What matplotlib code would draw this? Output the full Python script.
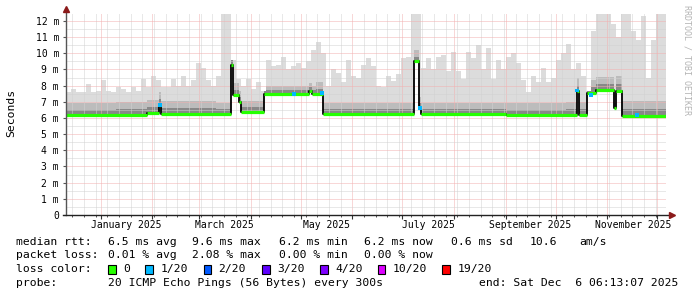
import matplotlib
matplotlib.use("Agg")
import matplotlib.pyplot as plt
import matplotlib.dates as mdates
import matplotlib.transforms as mtransforms
from matplotlib.patches import Rectangle
from matplotlib.ticker import MultipleLocator, NullFormatter, FuncFormatter
import numpy as np
import pandas as pd

plt.rcParams["font.family"] = ["DejaVu Sans Mono", "DejaVu Sans"]

START = pd.Timestamp("2024-12-11 06:13:07")
END = pd.Timestamp("2025-12-06 06:13:07")

# slowest ping of each sample (top of the light smoke), ms, one value per 3 days
smoke_max = [
    7.6, 7.8, 7.6, 7.6, 8.1, 7.6, 7.7, 8.35, 7.7, 7.6,
    7.9, 7.8, 7.6, 7.9, 7.7, 8.4, 7.9, 8.6, 8.35, 7.9,
    7.9, 8.4, 8.0, 8.6, 8.0, 8.35, 9.4, 9.1, 8.35, 8.0,
    8.6, 12.45, 12.45, 9.6, 8.4, 8.0, 8.4, 7.8, 8.2, 7.7,
    9.6, 9.2, 9.3, 9.8, 9.0, 9.2, 9.4, 9.1, 9.5, 10.2,
    10.7, 10.0, 8.0, 9.0, 8.8, 8.2, 9.6, 8.6, 8.5, 9.3,
    9.7, 9.2, 8.0, 7.9, 8.6, 8.3, 8.7, 9.7, 9.8, 12.45,
    12.45, 9.1, 9.7, 9.0, 9.8, 9.9, 8.9, 10.1, 8.9, 8.4,
    10.1, 9.7, 10.5, 9.0, 10.3, 8.4, 9.6, 9.0, 9.8, 10.0,
    9.4, 8.35, 7.6, 8.6, 8.2, 9.1, 8.2, 8.5, 9.6, 10.0,
    10.6, 9.0, 9.4, 8.6, 7.7, 11.4, 12.45, 12.45, 12.45, 11.8,
    11.0, 12.45, 12.45, 11.4, 10.8, 12.3, 8.5, 10.8, 12.45, 12.45,
]

# median rtt, ms, held until the next date
median_dates = [
    "2024-12-11 06:13", "2025-01-29", "2025-02-05", "2025-02-06 12:00",
    "2025-03-20", "2025-03-21 12:00", "2025-03-25", "2025-03-26",
    "2025-04-09", "2025-05-06", "2025-05-08", "2025-05-14 18:00",
    "2025-07-08", "2025-07-11", "2025-07-12", "2025-09-01",
    "2025-10-14", "2025-10-15", "2025-10-20", "2025-10-25",
    "2025-11-05", "2025-11-06", "2025-11-10",
]
median_ms = [
    6.2, 6.3, 6.8, 6.25,
    9.3, 7.45, 7.0, 6.35,
    7.5, 7.65, 7.5, 6.25,
    9.5, 6.6, 6.25, 6.2,
    7.65, 6.2, 7.55, 7.75,
    6.6, 7.7, 6.15,
]

# reach of the darker smoke bands above the median, ms, one value per 30 days
smoke_mid_ms = [0.7, 0.8, 0.8, 0.7, 0.5, 0.7, 0.7, 0.7, 0.7, 0.7, 0.8, 0.9]
smoke_dark_ms = [0.3, 0.35, 0.35, 0.3, 0.25, 0.3, 0.3, 0.3, 0.3, 0.3, 0.35, 0.4]

# samples where 1 of 20 pings was lost
loss_dates = ["2025-02-05 12:00", "2025-04-27", "2025-05-14", "2025-07-11 12:00",
              "2025-10-14", "2025-10-22", "2025-11-19"]
loss_ms = [6.8, 7.48, 7.57, 6.6, 7.7, 7.42, 6.18]
loss_level = [1, 1, 1, 1, 1, 1, 1]

loss_labels = ["0", "1/20", "2/20", "3/20", "4/20", "10/20", "19/20"]
loss_colors = ["#26ff00", "#00b8ff", "#0059ff", "#5e00ff", "#7e00ff", "#dd00ff", "#ff0000"]

month_label_dates = ["2025-01-16 12:00", "2025-03-16 12:00", "2025-05-16 12:00",
                     "2025-07-16 12:00", "2025-09-16", "2025-11-16 12:00"]

W, H = 697, 297


def to_dt(strings):
    return pd.to_datetime(strings, format="mixed")


def step_at(edges, values, t):
    idx = np.searchsorted(edges.values, t.values, side="right") - 1
    idx = np.clip(idx, 0, len(values) - 1)
    return np.asarray(values, dtype=float)[idx]


env_edges = pd.date_range(START, periods=len(smoke_max) + 1, freq="3D")
chunk_edges = pd.date_range(START, periods=len(smoke_mid_ms) + 1, freq="30D")
med_edges = pd.DatetimeIndex(list(to_dt(median_dates)) + [END])

grid_t = env_edges.union(chunk_edges).union(med_edges)
grid_t = grid_t[(grid_t >= START) & (grid_t <= END)]

med = step_at(med_edges, median_ms, grid_t)
top = np.maximum(step_at(env_edges, smoke_max, grid_t), med)
mid = np.minimum(med + step_at(chunk_edges, smoke_mid_ms, grid_t), top)
dark = np.minimum(med + step_at(chunk_edges, smoke_dark_ms, grid_t), top)
gx = mdates.date2num(grid_t)

fig = plt.figure(figsize=(W / 100, H / 100), dpi=100)
fig.patch.set_facecolor("white")
ax_h = (215 - 13.7) / H
ax = fig.add_axes([66 / W, 82 / H, 600 / W, ax_h])
ax.set_xlim(mdates.date2num(START), mdates.date2num(END))
ax.set_ylim(0, 12.45)

# smoke
ax.fill_between(gx, med, top, step="post", color="#dcdcdc", lw=0, zorder=1)
ax.fill_between(gx, med, mid, step="post", color="#bcbcbc", lw=0, zorder=1.1)
ax.fill_between(gx, med, dark, step="post", color="#888888", lw=0, zorder=1.2)

# median line, coloured by loss
mx = mdates.date2num(med_edges)
ax.step(mx, list(median_ms) + [median_ms[-1]], where="post", color="black", lw=1.3, zorder=3)
ax.hlines(median_ms, mx[:-1], mx[1:], color=loss_colors[0], lw=2.3, zorder=4)
ax.scatter(mdates.date2num(to_dt(loss_dates)), loss_ms, marker="s", s=8,
           c=[loss_colors[l] for l in loss_level], linewidths=0, zorder=5)

# grid
ax.xaxis.set_major_locator(mdates.MonthLocator())
ax.xaxis.set_minor_locator(mdates.WeekdayLocator(byweekday=mdates.SU))
ax.xaxis.set_major_formatter(NullFormatter())
ax.yaxis.set_major_locator(MultipleLocator(1))
ax.yaxis.set_minor_locator(MultipleLocator(0.5))
ax.yaxis.set_major_formatter(FuncFormatter(lambda v, _: "0" if v == 0 else f"{v:g} m"))
ax.set_axisbelow(False)
ax.grid(which="major", color="#f3b0b0", lw=0.72, ls=(0, (1, 1)), zorder=2)
ax.grid(which="minor", color="#d2d2d2", lw=0.72, ls=(0, (1, 1)), zorder=2)
ax.tick_params(axis="y", which="major", labelsize=7, length=2, pad=3, color="#555555")
ax.tick_params(axis="y", which="minor", length=0)
ax.tick_params(axis="x", which="major", length=3, color="#333333")
ax.tick_params(axis="x", which="minor", length=1.5, color="#333333")
for s in ax.spines.values():
    s.set_visible(False)

# axes with arrows
ax.plot([0, 0], [0, 1 + 5 / (ax_h * H)], transform=ax.transAxes, clip_on=False,
        color="#555555", lw=1, zorder=6)
ax.plot([-3 / 600, 1 + 6 / 600], [0, 0], transform=ax.transAxes, clip_on=False,
        color="#222222", lw=1, zorder=6)
ax.plot(0, 1 + 5 / (ax_h * H), marker="^", ms=4, color="#8b1a1a", transform=ax.transAxes,
        clip_on=False, zorder=7)
ax.plot(1 + 6 / 600, 0, marker=">", ms=4, color="#8b1a1a", transform=ax.transAxes,
        clip_on=False, zorder=7)

# month labels centred on the month
lab_tr = mtransforms.blended_transform_factory(ax.transData, fig.transFigure)
for d in to_dt(month_label_dates):
    ax.text(mdates.date2num(d), 1 - 225 / H, d.strftime("%B %Y"), transform=lab_tr,
            ha="center", va="center", fontsize=7)

fig.text(11 / W, 1 - 113 / H, "Seconds", rotation=90, ha="center", va="center", fontsize=8.2)
fig.text(687 / W, 1 - 5 / H, "RRDTOOL / TOBI OETIKER", rotation=270, ha="center", va="top",
         fontsize=6, color="#b4b4b4")


def ftext(x, y, s):
    fig.text(x / W, 1 - y / H, s, ha="left", va="center", fontsize=8.2)


ftext(16.4, 241.7, "median rtt:")
for x, s in zip([108, 192.4, 279, 364.4, 451, 530, 579],
                ["6.5 ms avg", "9.6 ms max", "6.2 ms min", "6.2 ms now", "0.6 ms sd", "10.6", "am/s"]):
    ftext(x, 241.7, s)
ftext(16.4, 255, "packet loss:")
for x, s in zip([108, 192.4, 279, 364.4],
                ["0.01 % avg", "2.08 % max", "0.00 % min", "0.00 % now"]):
    ftext(x, 255, s)
ftext(16.4, 269.3, "loss color:")
box_x = [108, 145.3, 203.6, 262.2, 320, 377.8, 442.2]
for bx, lab, col in zip(box_x, loss_labels, loss_colors):
    fig.add_artist(Rectangle((bx / W, 1 - 274 / H), 7.5 / W, 8.7 / H, transform=fig.transFigure,
                             facecolor=col, edgecolor="black", lw=0.8))
    ftext(bx + 15, 269.3, lab)
ftext(16.4, 283.3, "probe:")
ftext(108, 283.3, "20 ICMP Echo Pings (56 Bytes) every 300s")
ftext(478.7, 283.3, "end: Sat Dec  6 06:13:07 2025")

fig.savefig("out.png", dpi=100, facecolor="white")
